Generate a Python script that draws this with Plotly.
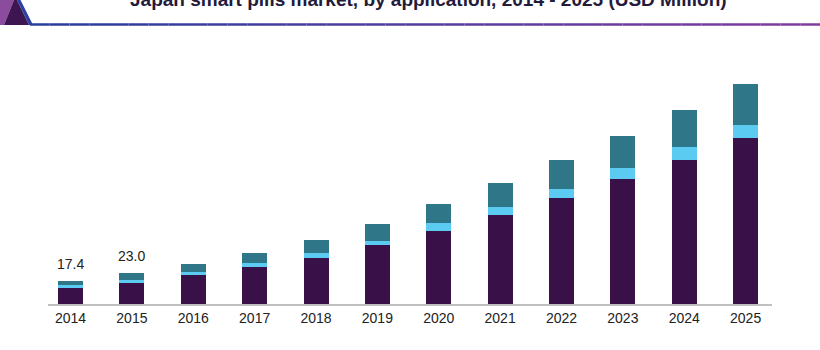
import plotly.graph_objects as go

years = ["2014", "2015", "2016", "2017", "2018", "2019", "2020", "2021", "2022", "2023", "2024", "2025"]
capsule_endoscopy = [11.7, 15.4, 21.3, 27.7, 34.2, 43.8, 54.5, 66.2, 78.6, 93.0, 107.3, 123.4]
drug_delivery = [2.5, 2.5, 2.5, 2.6, 3.5, 3.4, 5.9, 6.2, 6.9, 8.2, 9.7, 9.9]
patient_monitoring = [3.2, 5.1, 5.9, 7.7, 9.7, 12.6, 13.7, 17.4, 21.6, 23.5, 27.3, 30.3]
labelled_years = ["2014", "2015"]
labelled_totals = ["17.4", "23.0"]
title_text = "Japan smart pills market, by application, 2014 - 2025 (USD Million)"

W, H = 820, 350
ML, MR, MT, MB = 48, 48, 40, 46
PW = W - ML - MR
PH = H - MT - MB


def px(x):
    return (x - ML) / PW


def py(y):
    return (H - MB - y) / PH


fig = go.Figure()
fig.add_trace(go.Bar(x=years, y=capsule_endoscopy, name="Capsule Endoscopy",
                     marker=dict(color="#3a1048", line=dict(width=0))))
fig.add_trace(go.Bar(x=years, y=drug_delivery, name="Drug Delivery",
                     marker=dict(color="#5ccbf2", line=dict(width=0))))
fig.add_trace(go.Bar(x=years, y=patient_monitoring, name="Patient Monitoring",
                     marker=dict(color="#2f7688", line=dict(width=0))))

totals = [a + b + c for a, b, c in zip(capsule_endoscopy, drug_delivery, patient_monitoring)]
annotations = []
for yr, lab in zip(labelled_years, labelled_totals):
    i = years.index(yr)
    annotations.append(dict(x=i, y=totals[i], xref="x", yref="y", text=lab, showarrow=False,
                            yanchor="bottom", yshift=7,
                            font=dict(family="Arial, Liberation Sans", size=14, color="#222222")))

annotations.append(dict(x=px(428), y=py(0), xref="paper", yref="paper", text="<b>" + title_text + "</b>",
                        showarrow=False, xanchor="center", yanchor="middle",
                        font=dict(family="Arial, Liberation Sans", size=19, color="#241a3a")))

shapes = []
# header decoration: gradient rule
n = 40
x0, x1 = 30, 820
c0 = (40, 62, 158)
c1 = (128, 60, 158)
for i in range(n):
    t = i / (n - 1)
    col = "rgb(%d,%d,%d)" % tuple(int(c0[k] + (c1[k] - c0[k]) * t) for k in range(3))
    xa = x0 + (x1 - x0) * i / n
    xb = x0 + (x1 - x0) * (i + 1) / n
    shapes.append(dict(type="line", xref="paper", yref="paper", x0=px(xa), x1=px(xb),
                       y0=py(24.5), y1=py(24.5), line=dict(color=col, width=2.5)))


def poly(points, fill):
    d = "M " + " L ".join("%f,%f" % (px(a), py(b)) for a, b in points) + " Z"
    return dict(type="path", xref="paper", yref="paper", path=d, fillcolor=fill, line=dict(width=0))


shapes.append(poly([(0, 0), (14, 0), (4, 25), (0, 25)], "#8c4c9e"))
shapes.append(poly([(14, 0), (17, 0), (29, 25), (4, 25)], "#3d1550"))
shapes.append(poly([(17, 0), (20.5, 0), (33, 25), (29, 25)], "#2c40a0"))

fig.update_layout(
    width=W, height=H,
    margin=dict(l=ML, r=MR, t=MT, b=MB),
    barmode="stack",
    bargap=0.593,
    showlegend=False,
    plot_bgcolor="white",
    paper_bgcolor="white",
    annotations=annotations,
    shapes=shapes,
    xaxis=dict(type="category", range=[-0.367, 11.43], showline=True, linecolor="#c0c0c0",
               linewidth=2, ticks="", showgrid=False, zeroline=False,
               tickfont=dict(family="Arial, Liberation Sans", size=14, color="#222222")),
    yaxis=dict(range=[0, 196.3], visible=False, showgrid=False, zeroline=False),
)

fig.write_html("out.html")
